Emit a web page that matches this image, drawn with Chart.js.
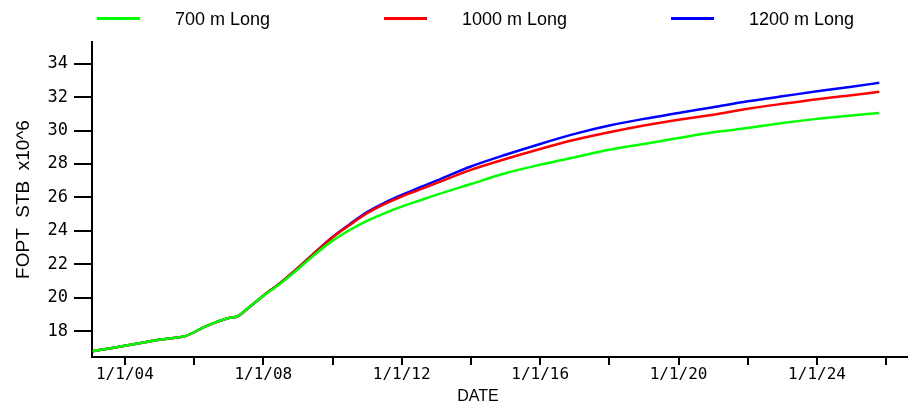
<!DOCTYPE html>
<html>
<head>
<meta charset="utf-8">
<script src="https://cdn.jsdelivr.net/npm/chart.js@4/dist/chart.umd.min.js"></script>
<style>
  html, body { margin: 0; padding: 0; background: #fff; }
  #wrap { position: relative; width: 909px; height: 404px; }
  #legend { position: absolute; left: 97px; top: 6px; display: flex; font-family: "Liberation Sans", Arial, sans-serif; font-size: 18px; color: #000; }
  .item { width: 287px; display: flex; align-items: center; height: 26px; }
  .swatch { width: 43px; height: 3px; margin-right: 35px; margin-top: -2px; }
</style>
</head>
<body>
<div id="wrap">
  <canvas id="c" width="909" height="404"></canvas>
  <div id="legend"></div>
</div>
<script>
// --- dados ---
const years = [2003.07, 2003.5, 2004, 2004.5, 2005, 2005.5, 2005.75, 2006.35, 2007, 2007.27, 2007.55, 2008, 2008.5,
  2009, 2009.5, 2010, 2010.5, 2011, 2011.5, 2012, 2012.5, 2013, 2014, 2015, 2016, 2017, 2018, 2019, 2020, 2021, 2022, 2023, 2024, 2025, 2025.8];

const fopt700 = [16.80, 16.95, 17.12, 17.30, 17.48, 17.62, 17.70, 18.30, 18.78, 18.90, 19.35, 20.10, 20.85,
  21.70, 22.60, 23.40, 24.05, 24.60, 25.05, 25.45, 25.80, 26.15, 26.80, 27.45, 27.95, 28.40, 28.85, 29.20, 29.55, 29.90, 30.15, 30.45, 30.70, 30.90, 31.05];

const fopt1000 = [16.80, 16.95, 17.12, 17.30, 17.48, 17.62, 17.70, 18.30, 18.78, 18.90, 19.35, 20.12, 20.90,
  21.78, 22.70, 23.60, 24.35, 25.05, 25.60, 26.05, 26.45, 26.85, 27.65, 28.30, 28.90, 29.45, 29.90, 30.30, 30.65, 30.95, 31.30, 31.60, 31.88, 32.12, 32.32];

const fopt1200 = [16.80, 16.95, 17.12, 17.30, 17.48, 17.62, 17.70, 18.30, 18.78, 18.90, 19.35, 20.12, 20.90,
  21.78, 22.72, 23.63, 24.40, 25.12, 25.68, 26.15, 26.58, 27.00, 27.85, 28.55, 29.20, 29.80, 30.30, 30.70, 31.05, 31.40, 31.75, 32.05, 32.35, 32.62, 32.86];

const seriesNames = ['700 m Long', '1000 m Long', '1200 m Long'];
const seriesColors = ['#00ff00', '#ff0000', '#0000ff'];
const yTicks = [18, 20, 22, 24, 26, 28, 30, 32, 34];

const toPoints = (vals) => years.map((x, i) => ({ x: x, y: vals[i] }));

// legenda em HTML
const legend = document.getElementById('legend');
legend.innerHTML = seriesNames.map((n, i) => `
  <div class="item"><div class="swatch" style="background:${seriesColors[i]}"></div><span>${n}</span></div>
`).join('');

// título do eixo X desenhado à mão (não está centrado no original)
const dateTitle = {
  id: 'dateTitle',
  afterDraw(chart) {
    const ctx = chart.ctx;
    ctx.save();
    ctx.font = '16px "Liberation Sans Narrow", "Liberation Sans", sans-serif';
    ctx.fillStyle = '#000';
    ctx.textAlign = 'center';
    ctx.textBaseline = 'middle';
    ctx.fillText('DATE', chart.scales.x.getPixelForValue(2014.2), 397);
    ctx.restore();
  }
};

const tickFont = { family: '"DejaVu Sans Mono", monospace', size: 16 };

new Chart(document.getElementById('c'), {
  type: 'line',
  data: {
    datasets: [fopt700, fopt1000, fopt1200].map((vals, i) => ({
      label: seriesNames[i],
      data: toPoints(vals),
      borderColor: seriesColors[i],
      backgroundColor: seriesColors[i],
      borderWidth: 2.5,
      pointRadius: 0,
      cubicInterpolationMode: 'monotone',
      fill: false
    }))
  },
  options: {
    responsive: false,
    animation: false,
    layout: { padding: { top: 42, right: 2, left: 0, bottom: 0 } },
    plugins: { legend: { display: false }, tooltip: { enabled: false } },
    scales: {
      x: {
        type: 'linear',
        min: 2003.05,
        max: 2026.6,
        afterFit: (s) => { s.height = 47; },
        border: { display: true, color: '#000', width: 2 },
        grid: { drawOnChartArea: false, drawTicks: true, tickLength: 8, color: '#000', lineWidth: 2 },
        ticks: {
          stepSize: 2,
          includeBounds: false,
          autoSkip: false,
          maxRotation: 0,
          padding: 0,
          color: '#000',
          font: tickFont,
          callback: (v) => (v % 4 === 0 ? '1/1/' + String(v % 100).padStart(2, '0') : '')
        }
      },
      y: {
        min: 16.45,
        max: 35.3,
        afterFit: (s) => { s.width = 92; },
        afterBuildTicks: (s) => { s.ticks = yTicks.map(v => ({ value: v })); },
        border: { display: true, color: '#000', width: 2 },
        grid: { drawOnChartArea: false, drawTicks: true, tickLength: 18, color: '#000', lineWidth: 2 },
        ticks: { padding: 6, color: '#000', font: { family: '"DejaVu Sans Mono", monospace', size: 17 } },
        title: {
          display: true,
          text: 'FOPT  STB  x10^6',
          color: '#000',
          font: { family: '"Liberation Sans", Arial, sans-serif', size: 19 },
          padding: { top: 12, bottom: 0 }
        }
      }
    }
  },
  plugins: [dateTitle]
});
</script>
</body>
</html>
